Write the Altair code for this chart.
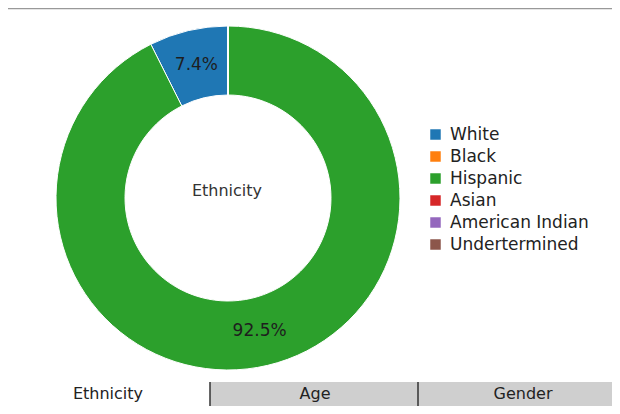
import altair as alt
import pandas as pd

categories = ["White", "Black", "Hispanic", "Asian", "American Indian", "Undertermined"]
values = [7.4, 0.0, 92.5, 0.0, 0.0, 0.0]
slice_order = [1, 2, 0, 3, 4, 5]
colors = ["#1f77b4", "#ff7f0e", "#2ca02c", "#d62728", "#9467bd", "#8c564b"]
center_title = "Ethnicity"
tabs = ["Ethnicity", "Age", "Gender"]

FONT = "DejaVu Sans"
W, H = 604, 398
CX, CY = 220, 190

df = pd.DataFrame({
    "category": categories,
    "value": values,
    "order": slice_order,
    "label": [f"{v}%" for v in values],
})

color = alt.Color(
    "category:N",
    scale=alt.Scale(domain=categories, range=colors),
    sort=categories,
    legend=alt.Legend(
        title=None, orient="none", legendX=419, legendY=118,
        symbolType="square", symbolSize=110, symbolStrokeWidth=0,
        labelFont=FONT, labelFontSize=17, labelColor="#222",
        labelOffset=6, rowPadding=4, padding=0,
    ),
)

base = alt.Chart(df).encode(
    theta=alt.Theta("value:Q", stack=True),
    order=alt.Order("order:Q"),
    x=alt.value(CX), y=alt.value(CY),
)

arcs = base.mark_arc(outerRadius=172, innerRadius=103, stroke="white", strokeWidth=1).encode(color=color)

labels = base.transform_filter("datum.value > 1").mark_text(
    font=FONT, fontSize=17, color="#1e1e1e"
).encode(text="label:N", radius=alt.value(137))

center = alt.Chart(pd.DataFrame({"t": [center_title]})).mark_text(
    font=FONT, fontSize=16, color="#333"
).encode(text="t:N", x=alt.value(CX - 1), y=alt.value(CY - 7))

frame_top = alt.Chart(pd.DataFrame({"a": [0]})).mark_rule(color="#999", strokeWidth=1.5).encode(
    x=alt.value(0), x2=alt.value(W), y=alt.value(0.5)
)

tab_bg = alt.Chart(pd.DataFrame({"a": [0]})).mark_rect(color="#cfcfcf").encode(
    x=alt.value(202), x2=alt.value(W), y=alt.value(374), y2=alt.value(H)
)

tab_sep = alt.Chart(pd.DataFrame({"sx": [202, 410]})).mark_rule(color="#333", strokeWidth=1.5).encode(
    x=alt.X("sx:Q", scale=None), y=alt.value(374), y2=alt.value(H)
)

tab_text = alt.Chart(pd.DataFrame({"tab": tabs, "tx": [100, 307, 515]})).mark_text(
    font=FONT, fontSize=16, color="#222"
).encode(text="tab:N", x=alt.X("tx:Q", scale=None), y=alt.value(386))

chart = alt.layer(frame_top, tab_bg, tab_sep, tab_text, arcs, labels, center).properties(
    width=W, height=H, padding=0, autosize=alt.AutoSizeParams(type="none"),
    background="white",
).configure_view(stroke=None)

chart.save("out.html", embed_options={"renderer": "svg", "actions": False})
